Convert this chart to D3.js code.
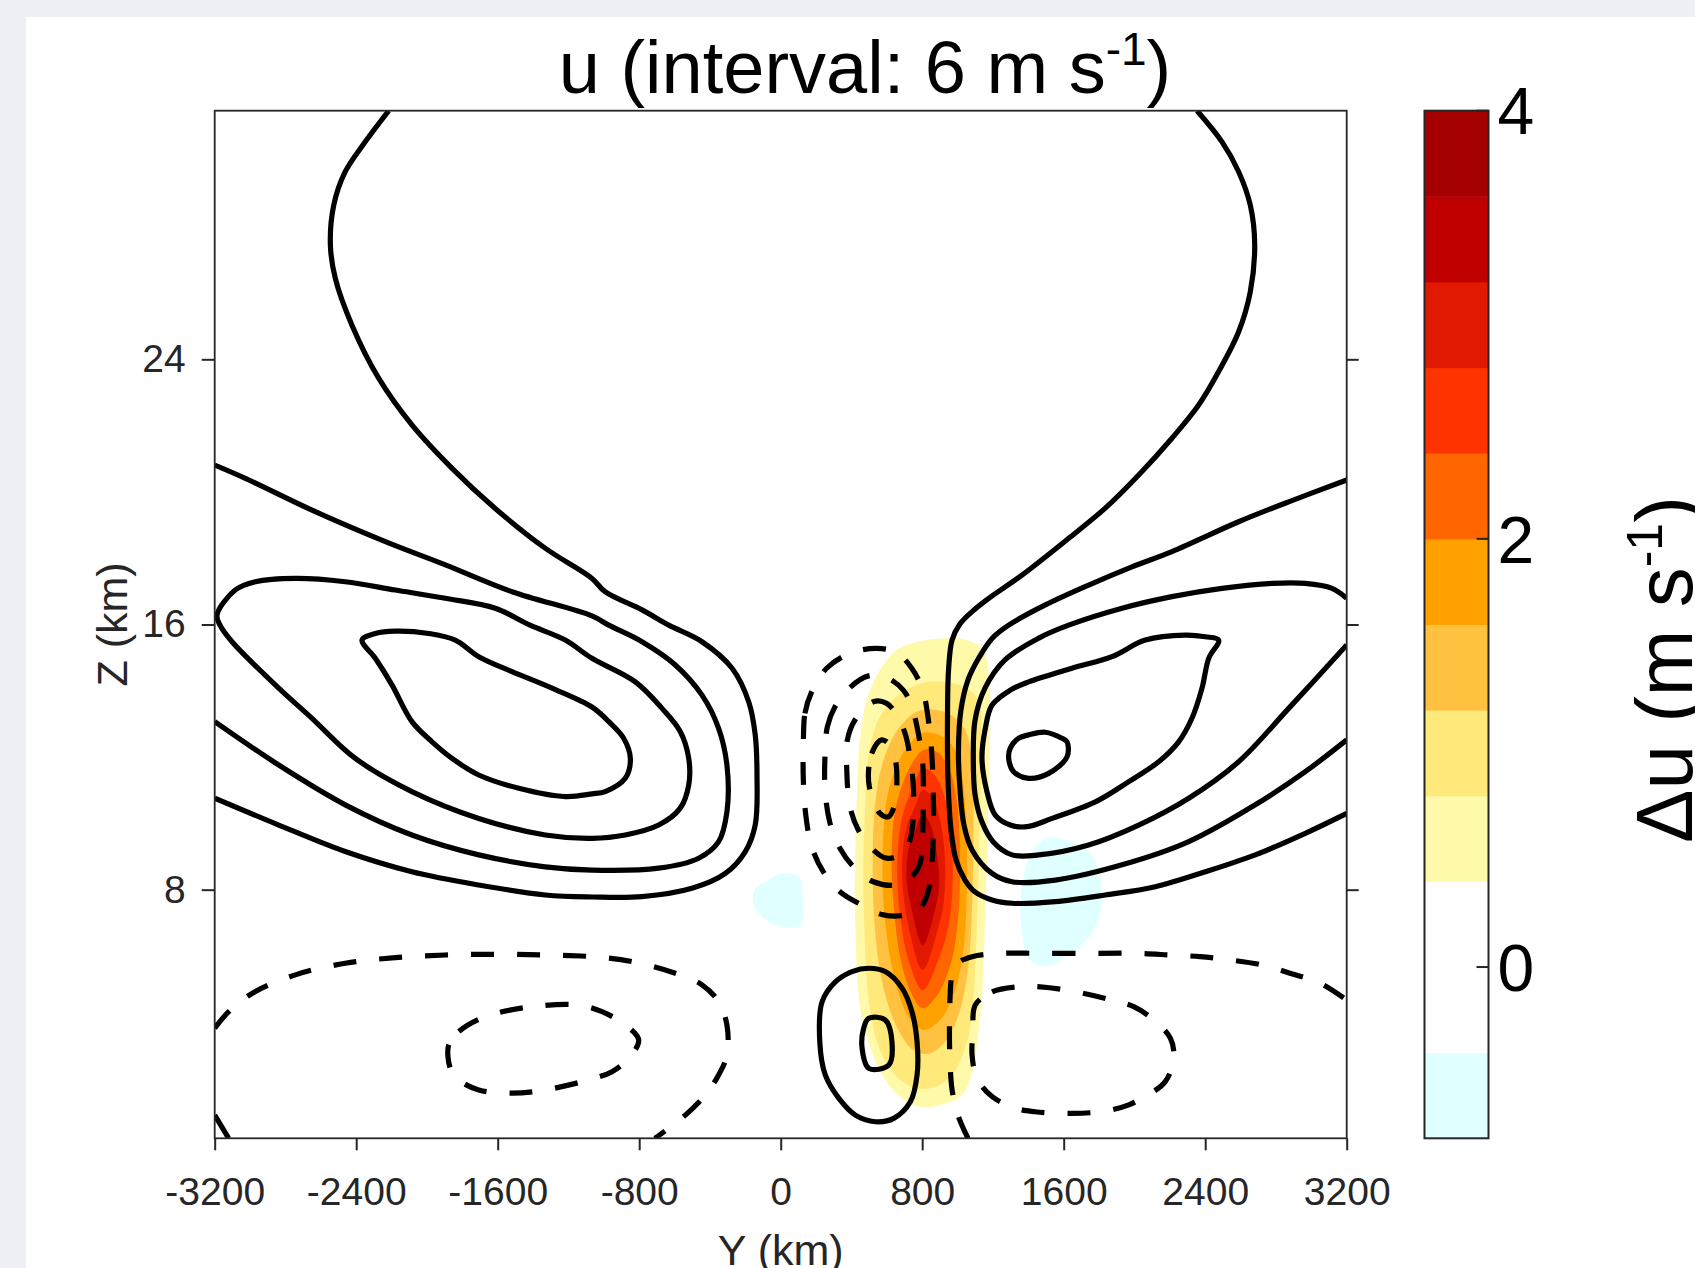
<!DOCTYPE html>
<html>
<head>
<meta charset="utf-8">
<script src="https://cdn.jsdelivr.net/npm/d3@7"></script>
<style>
  html, body { margin: 0; padding: 0; background: #eef0f5; }
  svg { display: block; }
  text { font-family: "Liberation Sans", Arial, Helvetica, sans-serif; }
</style>
</head>
<body>
<svg id="chart" width="1695" height="1268"></svg>
<script>
// axis ticks and colour levels
var yTicks = [-3200, -2400, -1600, -800, 0, 800, 1600, 2400, 3200];
var zTicks = [8, 16, 24];
var duLevels = [-0.8, -0.4, 0, 0.4, 0.8, 1.2, 1.6, 2.0, 2.4, 2.8, 3.2, 3.6, 4.0];
var duColors = ["#e0ffff", "#ffffff", "#ffffff", "#fff9aa", "#ffe97a", "#ffc13f",
                "#ffa200", "#ff6500", "#ff3300", "#e01900", "#c00000", "#a40000"];
var duTicks = [0, 2, 4];

// filled du regions, [Y km, Z km], one per lower level
var duFill04 = [[656,15.23],[769,15.48],[920,15.58],[1051,15.53],[1146,15.23],[1174,14.53],[1183,12.72],[1174,10.71],[1165,8.69],[1155,7.19],[1146,5.68],[1127,4.17],[1089,2.66],[1033,1.86],[938,1.56],[788,1.45],[675,1.76],[580,2.36],[505,3.26],[448,4.47],[430,5.68],[420,7.19],[420,8.69],[430,10.71],[448,12.52],[486,13.72],[561,14.63]];
var duFill08 = [[599,13.52],[656,13.82],[788,14.22],[920,14.27],[1033,14.12],[1117,13.72],[1131,12.21],[1127,10.20],[1117,8.19],[1104,6.18],[1089,4.67],[1051,3.37],[976,2.46],[882,2.06],[769,2.01],[656,2.36],[561,3.16],[505,4.37],[482,5.68],[471,7.19],[467,8.69],[477,10.50],[496,12.01],[543,13.02]];
var duFill12 = [[609,12.31],[675,12.92],[769,13.37],[882,13.42],[976,13.22],[1051,12.72],[1085,11.21],[1089,9.20],[1080,7.19],[1061,5.68],[1014,4.37],[938,3.47],[844,3.06],[750,3.16],[665,3.77],[599,4.67],[552,5.88],[528,7.19],[520,8.69],[528,10.20],[561,11.51]];
var duFill16 = [[646,11.61],[703,12.21],[797,12.72],[901,12.66],[976,12.31],[1023,11.51],[1051,9.70],[1051,7.69],[1033,6.18],[986,4.97],[901,4.07],[806,3.77],[722,4.17],[656,5.07],[609,6.28],[580,7.69],[577,9.20],[599,10.71]];
var duFill20 = [[684,11.11],[731,11.71],[806,12.21],[882,12.16],[948,11.71],[995,10.71],[1014,8.69],[1004,7.19],[967,5.88],[891,4.87],[803,4.42],[731,4.97],[675,5.98],[641,7.39],[627,8.69],[641,10.20]];
var duFill24 = [[703,10.50],[750,11.11],[803,11.66],[863,11.51],[920,10.91],[961,9.70],[972,8.19],[948,6.88],[891,5.88],[803,4.97],[722,5.88],[678,7.09],[659,8.39],[671,9.70]];
var duFill28 = [[712,9.90],[759,10.50],[803,11.01],[854,10.81],[901,10.10],[929,8.90],[923,7.69],[882,6.68],[803,5.58],[731,6.68],[693,7.89],[690,9.10]];
var duFill32 = [[722,9.20],[769,9.90],[803,10.30],[844,10.00],[882,9.10],[897,8.19],[872,7.39],[803,6.33],[741,7.39],[712,8.29]];
var duNegWest = [[-144,8.04],[-87,8.24],[7,8.49],[102,8.39],[124,7.74],[111,6.93],[7,6.88],[-68,7.03],[-153,7.54]];
var duNegEast = [[1364,8.14],[1421,9.15],[1506,9.55],[1647,9.45],[1760,9.05],[1817,7.94],[1798,7.14],[1722,6.43],[1628,6.03],[1496,5.68],[1402,5.93],[1360,6.93]];

// u contour lines (interval 6 m/s), [Y km, Z km]
var uPos6Left = [[-3200,10.76],[-2838,9.95],[-2462,9.15],[-2085,8.54],[-1707,8.14],[-1331,7.84],[-1067,7.78],[-784,7.79],[-502,8.04],[-313,8.49],[-200,9.15],[-144,9.95],[-134,11.46],[-144,12.67],[-181,13.67],[-275,14.68],[-445,15.48],[-633,15.98],[-784,16.44],[-993,16.99],[-1067,17.39],[-1331,18.30],[-1614,19.50],[-1858,20.71],[-2085,22.02],[-2273,23.43],[-2424,25.03],[-2518,26.44],[-2546,27.45],[-2527,28.65],[-2462,29.66],[-2349,30.56],[-2216,31.5]];
var uPos12Left = [[-3200,20.81],[-3027,20.41],[-2650,19.45],[-2235,18.50],[-1896,17.80],[-1519,16.99],[-1067,16.26],[-972,15.98],[-784,15.48],[-596,14.78],[-445,13.87],[-351,12.87],[-304,11.76],[-304,10.35],[-351,9.45],[-464,8.95],[-690,8.65],[-1067,8.59],[-1331,8.69],[-1707,9.05],[-2085,9.65],[-2462,10.56],[-2838,11.76],[-3200,13.07]];
var uPos18Left = [[-3187,16.29],[-3084,17.04],[-2970,17.29],[-2744,17.39],[-2462,17.29],[-2179,17.04],[-1896,16.79],[-1614,16.49],[-1417,15.98],[-1218,15.53],[-1067,14.98],[-822,14.27],[-671,13.47],[-568,12.77],[-520,11.96],[-520,11.16],[-568,10.46],[-690,9.95],[-879,9.65],[-1067,9.55],[-1331,9.65],[-1707,10.15],[-2085,10.96],[-2405,11.96],[-2650,13.17],[-2838,14.08],[-3102,15.48],[-3170,15.98]];
var uPos24Left = [[-2367,15.53],[-2292,15.73],[-2179,15.80],[-1990,15.73],[-1840,15.53],[-1707,15.03],[-1519,14.58],[-1293,14.08],[-1067,13.51],[-972,13.07],[-888,12.57],[-850,11.96],[-879,11.36],[-992,10.96],[-1067,10.89],[-1218,10.81],[-1481,11.06],[-1707,11.46],[-1858,11.96],[-1971,12.46],[-2085,13.07],[-2198,14.18],[-2292,14.98]];
var uPos6Right = [[2354,31.5],[2495,30.56],[2589,29.66],[2655,28.65],[2680,27.45],[2655,26.04],[2589,24.83],[2476,23.63],[2363,22.62],[2212,21.62],[2024,20.51],[1835,19.51],[1628,18.60],[1364,17.49],[1176,16.79],[1082,16.39],[1014,16.02],[969,15.53],[949,14.63],[943,13.12],[946,11.31],[963,9.80],[991,8.90],[1042,8.29],[1099,7.93],[1195,7.69],[1308,7.59],[1553,7.64],[1835,7.84],[2118,8.09],[2401,8.54],[2683,9.05],[2966,9.70],[3200,10.30]];
var uPos12Right = [[3200,20.36],[2872,19.70],[2589,19.10],[2212,18.20],[1986,17.74],[1741,17.19],[1496,16.59],[1289,15.98],[1195,15.58],[1119,14.98],[1059,14.33],[1019,13.42],[1005,12.21],[1014,11.01],[1036,9.95],[1082,9.20],[1195,8.49],[1308,8.24],[1553,8.29],[1930,8.75],[2307,9.45],[2683,10.56],[2966,11.56],[3200,12.52]];
var uPos18Right = [[3200,16.79],[3117,17.09],[2966,17.24],[2778,17.24],[2495,17.09],[2212,16.84],[1930,16.49],[1628,15.98],[1459,15.59],[1268,14.93],[1155,14.08],[1099,13.12],[1089,11.91],[1099,10.86],[1138,10.04],[1202,9.44],[1308,9.05],[1459,9.05],[1741,9.35],[2024,9.95],[2307,10.76],[2589,11.86],[2872,13.47],[3200,15.38]];
var uPos24Right = [[1195,13.57],[1298,14.02],[1402,14.27],[1647,14.68],[1873,15.03],[2061,15.53],[2288,15.68],[2401,15.63],[2476,15.53],[2420,14.98],[2382,14.08],[2325,13.17],[2250,12.46],[2137,11.86],[1968,11.26],[1779,10.65],[1534,10.15],[1393,9.90],[1298,9.95],[1213,10.25],[1166,10.96],[1138,11.96],[1157,12.87]];
var uPos30Right = [[1402,12.67],[1496,12.75],[1590,12.57],[1619,12.46],[1619,12.01],[1515,11.51],[1402,11.36],[1317,11.56],[1289,11.96],[1298,12.27],[1346,12.57]];
var uPos6Bottom = [[234,4.62],[309,5.22],[403,5.53],[498,5.63],[591,5.53],[686,5.03],[742,4.32],[771,3.41],[771,2.41],[733,1.60],[639,1.10],[535,1.00],[422,1.20],[328,1.71],[252,2.41],[221,3.41]];
var uPos12Bottom = [[498,4.12],[591,4.07],[629,3.41],[611,2.71],[498,2.61],[460,3.22],[469,3.82]];
var uPos6Corner = [[-3200,1.20],[-3121,0.5]];
var uNeg6Left = [[-3200,3.82],[-3121,4.32],[-2989,4.87],[-2744,5.43],[-2462,5.78],[-2179,5.95],[-1896,6.03],[-1614,6.05],[-1331,6.03],[-1067,5.98],[-841,5.83],[-596,5.48],[-445,5.13],[-351,4.62],[-304,3.92],[-304,3.01],[-351,2.41],[-426,1.81],[-539,1.20],[-711,0.5]];
var uNeg12Left = [[-1877,3.32],[-1820,3.72],[-1670,4.17],[-1406,4.47],[-1142,4.52],[-1010,4.32],[-879,3.92],[-803,3.47],[-859,2.91],[-954,2.51],[-1067,2.29],[-1331,1.96],[-1519,1.86],[-1707,1.96],[-1820,2.26],[-1868,2.61]];
var uNeg6Right = [[1059,0.5],[1002,1.20],[969,1.96],[957,2.86],[954,3.77],[957,4.67],[969,5.43],[1002,5.79],[1082,5.98],[1240,6.08],[1466,6.08],[1749,6.08],[2003,6.08],[2201,6.03],[2371,5.98],[2540,5.88],[2721,5.73],[2879,5.48],[3049,5.18],[3200,4.67]];
var uNeg12Right = [[1100,4.52],[1195,4.92],[1336,5.07],[1468,5.07],[1647,4.94],[1873,4.67],[1996,4.47],[2109,4.07],[2203,3.52],[2222,2.91],[2174,2.21],[2061,1.76],[1968,1.51],[1835,1.32],[1647,1.25],[1439,1.30],[1326,1.41],[1195,1.76],[1110,2.31],[1082,3.01],[1087,3.72]];
var uNeg6Mid = [[128,12.31],[137,13.32],[175,13.97],[260,14.68],[392,15.13],[543,15.28],[656,15.15],[741,14.68],[803,14.02],[835,13.12],[854,12.11],[863,10.91],[863,9.70],[854,8.69],[831,7.89],[788,7.44],[712,7.24],[580,7.24],[458,7.54],[335,7.94],[241,8.54],[175,9.30],[143,10.20],[128,11.31]];
var uNeg12Mid = [[251,12.11],[264,12.92],[307,13.52],[392,14.10],[496,14.45],[599,14.40],[693,14.02],[741,13.52],[778,12.72],[803,11.81],[806,10.71],[803,9.70],[788,8.79],[741,8.39],[656,8.14],[524,8.24],[420,8.64],[335,9.25],[279,10.00],[251,11.01]];
var uNeg18Mid = [[373,11.71],[377,12.52],[420,13.12],[524,13.67],[599,13.62],[656,13.27],[703,12.72],[731,12.01],[750,11.11],[750,10.20],[731,9.50],[693,9.10],[599,8.95],[514,9.25],[439,9.80],[392,10.50]];
var uNeg24Mid = [[496,11.51],[514,12.11],[571,12.52],[627,12.31],[652,11.81],[656,11.11],[646,10.60],[609,10.20],[561,10.30],[524,10.71],[501,11.11]];

var duFills = [
    {level: -0.8, pts: duNegWest}, {level: -0.8, pts: duNegEast},
    {level: 0.4, pts: duFill04}, {level: 0.8, pts: duFill08}, {level: 1.2, pts: duFill12},
    {level: 1.6, pts: duFill16}, {level: 2.0, pts: duFill20}, {level: 2.4, pts: duFill24},
    {level: 2.8, pts: duFill28}, {level: 3.2, pts: duFill32}
];
var uLines = [
    {pts: uPos6Left, closed: false}, {pts: uPos12Left, closed: false},
    {pts: uPos18Left, closed: true}, {pts: uPos24Left, closed: true},
    {pts: uPos6Right, closed: false}, {pts: uPos12Right, closed: false},
    {pts: uPos18Right, closed: false}, {pts: uPos24Right, closed: true},
    {pts: uPos30Right, closed: true}, {pts: uPos6Bottom, closed: true},
    {pts: uPos12Bottom, closed: true}, {pts: uPos6Corner, closed: false},
    {pts: uNeg6Left, closed: false, neg: true}, {pts: uNeg12Left, closed: true, neg: true},
    {pts: uNeg6Right, closed: false, neg: true}, {pts: uNeg12Right, closed: true, neg: true},
    {pts: uNeg6Mid, closed: true, neg: true}, {pts: uNeg12Mid, closed: true, neg: true},
    {pts: uNeg18Mid, closed: true, neg: true}, {pts: uNeg24Mid, closed: true, neg: true}
];

var W = 1695, H = 1268,
    plot = {left: 214.7, top: 110.7, width: 1132, height: 1027.6},
    bar = {left: 1424.5, top: 110.7, width: 64, height: 1027.6},
    axisColor = "#262626",
    fontFamily = '"Liberation Sans", Arial, Helvetica, sans-serif';

var svg = d3.select("#chart");

var x = d3.scaleLinear().domain([-3200, 3200]).range([0, plot.width]);
var z = d3.scaleLinear().domain([0.5, 31.5]).range([plot.height, 0]);
var c = d3.scaleLinear().domain([duLevels[0], duLevels[duLevels.length - 1]]).range([bar.height, 0]);
var color = d3.scaleThreshold().domain(duLevels.slice(1, -1)).range(duColors);

var lineOpen = d3.line()
    .x(function (d) { return x(d[0]); })
    .y(function (d) { return z(d[1]); })
    .curve(d3.curveCatmullRom.alpha(0.5));
var lineClosed = d3.line()
    .x(function (d) { return x(d[0]); })
    .y(function (d) { return z(d[1]); })
    .curve(d3.curveCatmullRomClosed.alpha(0.5));

var plainNumber = function (d) { return String(d); };

var layers = {};

layers.background = function () {
    svg.append("rect").attr("width", W).attr("height", H).attr("fill", "#eef0f5");
    svg.append("rect").attr("x", 26).attr("y", 17)
        .attr("width", W - 26).attr("height", H - 17).attr("fill", "#ffffff");
};

layers.field = function (g) {
    g.append("clipPath").attr("id", "plotClip")
        .append("rect").attr("width", plot.width).attr("height", plot.height);

    var inner = g.append("g").attr("clip-path", "url(#plotClip)");

    inner.append("rect").attr("width", plot.width).attr("height", plot.height).attr("fill", "#ffffff");

    //filled du levels, painted low to high
    inner.append("g").selectAll("path")
        .data(duFills)
        .enter()
        .append("path")
        .attr("d", function (d) { return lineClosed(d.pts); })
        .attr("fill", function (d) { return color(d.level); })
        .attr("stroke", "none");

    //u contours
    inner.append("g").selectAll("path")
        .data(uLines)
        .enter()
        .append("path")
        .attr("d", function (d) { return d.closed ? lineClosed(d.pts) : lineOpen(d.pts); })
        .attr("fill", "none")
        .attr("stroke", "#000")
        .attr("stroke-width", 5.2)
        .attr("stroke-linejoin", "round")
        .attr("stroke-dasharray", function (d) { return d.neg ? "23 23" : null; });
};

layers.axes = function (g) {
    var xAxis = d3.axisBottom(x).tickValues(yTicks).tickFormat(plainNumber)
        .tickSize(12).tickSizeOuter(0).tickPadding(27);
    var zAxis = d3.axisLeft(z).tickValues(zTicks).tickFormat(plainNumber)
        .tickSize(13).tickSizeOuter(0).tickPadding(16);
    var zAxisRight = d3.axisRight(z).tickValues(zTicks).tickSize(12).tickSizeOuter(0).tickFormat("");

    var gx = g.append("g").attr("transform", "translate(0," + plot.height + ")").call(xAxis);
    var gz = g.append("g").call(zAxis);
    var gzr = g.append("g").attr("transform", "translate(" + plot.width + ",0)").call(zAxisRight);

    [gx, gz, gzr].forEach(function (a) {
        a.select(".domain").remove();
        a.attr("font-family", fontFamily).attr("font-size", 39);
        a.selectAll(".tick line").attr("stroke", axisColor).attr("stroke-width", 2);
        a.selectAll(".tick text").attr("fill", axisColor);
    });

    g.append("rect")
        .attr("width", plot.width).attr("height", plot.height)
        .attr("fill", "none").attr("stroke", axisColor).attr("stroke-width", 1.8);
};

layers.colorbar = function () {
    var cb = svg.append("g").attr("transform", "translate(" + bar.left + "," + bar.top + ")");
    var bands = duColors.map(function (col, i) { return {lo: duLevels[i], hi: duLevels[i + 1], col: col}; });

    cb.selectAll("rect.band")
        .data(bands)
        .enter()
        .append("rect")
        .classed("band", true)
        .attr("x", 0)
        .attr("y", function (d) { return c(d.hi); })
        .attr("width", bar.width)
        .attr("height", function (d) { return c(d.lo) - c(d.hi) + 0.5; })
        .attr("fill", function (d) { return d.col; });

    cb.append("rect")
        .attr("width", bar.width).attr("height", bar.height)
        .attr("fill", "none").attr("stroke", axisColor).attr("stroke-width", 2);

    cb.selectAll("line.cbtick")
        .data(duTicks)
        .enter()
        .append("line")
        .classed("cbtick", true)
        .attr("x1", bar.width - 12).attr("x2", bar.width)
        .attr("y1", function (d) { return c(d); })
        .attr("y2", function (d) { return c(d); })
        .attr("stroke", axisColor).attr("stroke-width", 2);

    cb.selectAll("text.cblabel")
        .data(duTicks)
        .enter()
        .append("text")
        .classed("cblabel", true)
        .attr("x", bar.width + 9)
        .attr("y", function (d) { return c(d); })
        .attr("dy", "0.36em")
        .style("font-size", "66px")
        .attr("fill", "#000")
        .text(function (d) { return d; });
};

layers.labels = function () {
    var title = svg.append("text")
        .attr("x", 865).attr("y", 93)
        .attr("text-anchor", "middle")
        .attr("fill", "#000")
        .style("font-size", "74px");
    title.append("tspan").text("u (interval: 6 m s");
    title.append("tspan").attr("dy", -28).style("font-size", "46px").text("-1");
    title.append("tspan").attr("dy", 28).text(")");

    svg.append("text")
        .attr("x", plot.left + plot.width / 2).attr("y", 1265)
        .attr("text-anchor", "middle")
        .attr("fill", axisColor)
        .style("font-size", "43px")
        .text("Y (km)");

    svg.append("text")
        .attr("transform", "translate(127," + (plot.top + plot.height / 2) + ") rotate(-90)")
        .attr("text-anchor", "middle")
        .attr("fill", axisColor)
        .style("font-size", "43px")
        .text("Z (km)");

    var cbl = svg.append("text")
        .attr("transform", "translate(1692,843) rotate(-90)")
        .attr("fill", "#000")
        .style("font-size", "80px");
    cbl.append("tspan").text("\u0394u (m s");
    cbl.append("tspan").attr("dy", -30).style("font-size", "50px").text("-1");
    cbl.append("tspan").attr("dy", 30).text(")");
};

layers.background();
var g = svg.append("g").attr("transform", "translate(" + plot.left + "," + plot.top + ")");
layers.field(g);
layers.axes(g);
layers.colorbar();
layers.labels();
</script>
</body>
</html>
